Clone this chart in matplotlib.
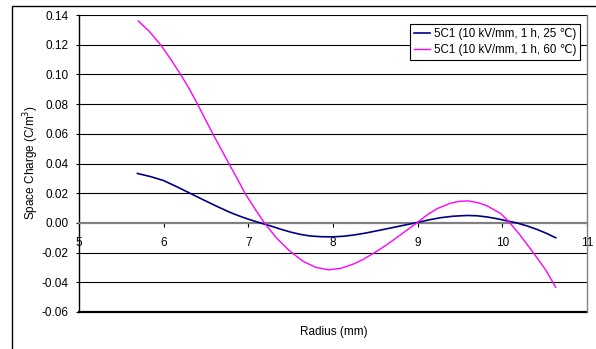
import matplotlib
matplotlib.use("Agg")
import matplotlib.pyplot as plt
from matplotlib.patches import Rectangle
from matplotlib.ticker import FormatStrFormatter

plt.rcParams['font.family'] = ['Liberation Sans', 'DejaVu Sans']
plt.rcParams['axes.unicode_minus'] = False

# Series 1: 25 C
r_25 = [5.69, 5.85, 6.00, 6.15, 6.31, 6.47, 6.63, 6.78, 6.90, 7.00, 7.14, 7.26,
        7.38, 7.50, 7.62, 7.73, 7.86, 8.00, 8.12, 8.24, 8.38, 8.52, 8.64, 8.75,
        8.87, 8.99, 9.13, 9.27, 9.42, 9.58, 9.70, 9.82, 9.94, 10.06, 10.17,
        10.29, 10.41, 10.52, 10.63]
q_25 = [0.0333, 0.0311, 0.0285, 0.0245, 0.0200, 0.0155, 0.0111, 0.0072, 0.0045,
        0.0025, 0.0000, -0.0020, -0.0042, -0.0062, -0.0078, -0.0088, -0.0093,
        -0.0094, -0.0090, -0.0082, -0.0069, -0.0053, -0.0039, -0.0026, -0.0012,
        0.0002, 0.0020, 0.0035, 0.0045, 0.0050, 0.0048, 0.0040, 0.0028, 0.0013,
        0.0000, -0.0020, -0.0044, -0.0070, -0.0100]

# Series 2: 60 C
r_60 = [5.70, 5.83, 5.97, 6.08, 6.20, 6.30, 6.40, 6.49, 6.58, 6.68, 6.77, 6.87,
        6.96, 7.08, 7.19, 7.33, 7.49, 7.65, 7.80, 7.95, 8.10, 8.25, 8.36, 8.52,
        8.64, 8.75, 8.87, 8.99, 9.11, 9.23, 9.39, 9.50, 9.60, 9.72, 9.82, 9.98,
        10.07, 10.21, 10.37, 10.51, 10.63]
q_60 = [0.136, 0.129, 0.1195, 0.1105, 0.100, 0.0905, 0.080, 0.070, 0.060, 0.0495,
        0.040, 0.0297, 0.020, 0.0093, 0.000, -0.010, -0.019, -0.026, -0.030,
        -0.0316, -0.0305, -0.0275, -0.0245, -0.019, -0.0145, -0.010, -0.005,
        0.000, 0.0053, 0.0096, 0.0133, 0.0146, 0.0148, 0.0135, 0.0115, 0.0063,
        0.0013, -0.0082, -0.0204, -0.0315, -0.0433]

labels = ["5C1 (10 kV/mm, 1 h, 25 \u2103)", "5C1 (10 kV/mm, 1 h, 60 \u2103)"]
x_ticks = [5, 6, 7, 8, 9, 10, 11]
y_ticks = [-0.06, -0.04, -0.02, 0.00, 0.02, 0.04, 0.06, 0.08, 0.10, 0.12, 0.14]

W, H = 596, 349
fig = plt.figure(figsize=(W / 100, H / 100), dpi=100)
fig.patch.set_facecolor('white')

# outer chart-area frame (cut off at right and bottom)
fig.patches.append(Rectangle((12 / W, -0.1), 1.2, (H - 6) / H + 0.1,
                             transform=fig.transFigure, fill=False,
                             edgecolor='black', linewidth=1.0))

ax = fig.add_axes([79 / W, (H - 312) / H, (587 - 79) / W, (312 - 15) / H])
ax.set_xlim(5, 11)
ax.set_ylim(-0.06, 0.14)

for yv in y_ticks:
    if yv != 0:
        ax.axhline(yv, color='black', linewidth=0.8, zorder=1)

ax.plot(r_25, q_25, color='#000080', linewidth=1.2, label=labels[0], zorder=3)
ax.plot(r_60, q_60, color='#FF00FF', linewidth=1.0, label=labels[1], zorder=3)

ax.spines['bottom'].set_position(('data', 0))
ax.spines['bottom'].set_color('#808080')
ax.spines['bottom'].set_linewidth(1.6)
ax.spines['left'].set_color('black')
ax.spines['left'].set_linewidth(1.0)
ax.spines['top'].set_visible(False)
ax.spines['right'].set_color('#808080')
ax.spines['right'].set_linewidth(1.0)
ax.axhline(-0.06, color='black', linewidth=1.6, zorder=2, clip_on=False)

ax.set_xticks(x_ticks)
ax.set_yticks(y_ticks)
ax.yaxis.set_major_formatter(FormatStrFormatter('%.2f'))
ax.tick_params(axis='x', direction='out', length=3, width=0.8, pad=7,
               labelsize=8.5, colors='black')
ax.tick_params(axis='y', direction='out', length=2.5, width=0.8, pad=5,
               labelsize=8.5, colors='black')

fig.text(31 / W, 1 - 163 / H, "Space Charge (C/m$^3$)", rotation=90,
         ha='center', va='center', fontsize=8.5)
fig.text(334 / W, 1 - 332 / H, "Radius (mm)", ha='center', va='center',
         fontsize=8.5)

leg = ax.legend(loc='upper left', bbox_to_anchor=(410 / W, 1 - 23.5 / H),
                bbox_transform=fig.transFigure, borderaxespad=0,
                fontsize=8.3, frameon=True, fancybox=False, framealpha=1,
                edgecolor='black', handlelength=1.4, handletextpad=0.3,
                borderpad=0.35, labelspacing=0.35)
leg.get_frame().set_linewidth(0.8)

fig.savefig("out.png", dpi=100)
